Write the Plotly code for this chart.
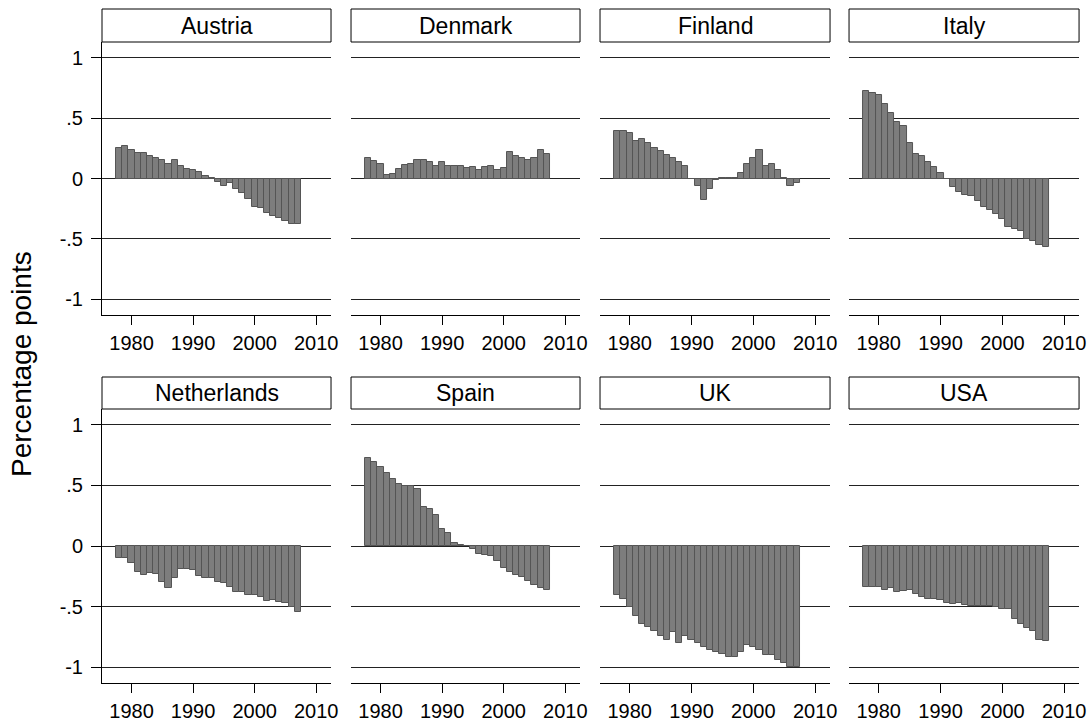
import plotly.graph_objects as go

years = list(range(1978, 2008))
countries = ["Austria", "Denmark", "Finland", "Italy",
             "Netherlands", "Spain", "UK", "USA"]

austria = [0.25, 0.27, 0.236, 0.21, 0.21, 0.19, 0.17, 0.15, 0.12, 0.15,
           0.10, 0.08, 0.07, 0.055, 0.02, 0.004, -0.03, -0.065, -0.04, -0.09,
           -0.12, -0.17, -0.235, -0.245, -0.285, -0.31, -0.33, -0.355, -0.375, -0.38]
denmark = [0.173, 0.143, 0.124, 0.025, 0.036, 0.077, 0.11, 0.124, 0.154, 0.154,
           0.135, 0.107, 0.135, 0.107, 0.107, 0.107, 0.088, 0.096, 0.074, 0.096,
           0.107, 0.074, 0.088, 0.217, 0.187, 0.173, 0.154, 0.173, 0.239, 0.206]
finland = [0.39, 0.39, 0.38, 0.313, 0.327, 0.294, 0.25, 0.228, 0.195, 0.173,
           0.14, 0.107, -0.004, -0.058, -0.176, -0.09, -0.014, 0.008, 0.008, 0.002,
           0.044, 0.12, 0.173, 0.239, 0.107, 0.12, 0.074, 0.002, -0.058, -0.04]
italy = [0.728, 0.709, 0.695, 0.618, 0.541, 0.467, 0.434, 0.294, 0.206, 0.184,
         0.14, 0.096, 0.044, -0.008, -0.069, -0.115, -0.135, -0.148, -0.184, -0.234,
         -0.264, -0.297, -0.332, -0.398, -0.418, -0.431, -0.5, -0.514, -0.547, -0.569]
netherlands = [-0.096, -0.102, -0.138, -0.212, -0.24, -0.226, -0.234, -0.295, -0.35, -0.267,
               -0.187, -0.187, -0.2, -0.245, -0.262, -0.267, -0.295, -0.306, -0.336, -0.383,
               -0.383, -0.405, -0.4, -0.421, -0.452, -0.446, -0.46, -0.474, -0.504, -0.548]
spain = [0.73, 0.689, 0.65, 0.6, 0.554, 0.512, 0.493, 0.493, 0.468, 0.325,
         0.303, 0.259, 0.143, 0.11, 0.022, 0.008, -0.002, -0.025, -0.069, -0.072,
         -0.083, -0.121, -0.185, -0.218, -0.242, -0.259, -0.287, -0.322, -0.35, -0.364]
uk = [-0.405, -0.44, -0.5, -0.576, -0.647, -0.669, -0.702, -0.744, -0.777, -0.708,
      -0.796, -0.744, -0.777, -0.804, -0.832, -0.854, -0.873, -0.887, -0.915, -0.915,
      -0.873, -0.818, -0.837, -0.86, -0.895, -0.895, -0.937, -0.961, -0.997, -1.0]
usa = [-0.339, -0.339, -0.339, -0.361, -0.35, -0.38, -0.372, -0.364, -0.394, -0.419,
       -0.435, -0.433, -0.446, -0.468, -0.479, -0.474, -0.487, -0.496, -0.496, -0.496,
       -0.496, -0.5, -0.523, -0.523, -0.603, -0.644, -0.678, -0.7, -0.777, -0.785]

series = [austria, denmark, finland, italy, netherlands, spain, uk, usa]

x_ticks = [1980, 1990, 2000, 2010]
y_ticks = [-1, -0.5, 0, 0.5, 1]
y_tick_labels = ["-1", "-.5", "0", ".5", "1"]

W, H = 1092, 722
XS = 1.0065  # small horizontal correction observed in rendering
FONT = "Liberation Sans, Arial, sans-serif"
col_px = [(102, 331), (351, 580), (600, 830), (849, 1079)]
row_px = [(42, 315), (409, 683)]
strip_px = [(9, 42), (377, 409)]

def px(x):
    return min(1.0, x * XS / W)

def py(y):
    return 1 - y / H

fig = go.Figure()
layout = dict(
    width=W, height=H,
    margin=dict(l=0, r=0, t=0, b=0),
    paper_bgcolor="white", plot_bgcolor="white",
    showlegend=False, bargap=0,
    font=dict(family=FONT, color="black"),
)
shapes = []
annotations = []

for i, (name, vals) in enumerate(zip(countries, series)):
    r, c = divmod(i, 4)
    k = i + 1
    xa = "xaxis" if k == 1 else f"xaxis{k}"
    ya = "yaxis" if k == 1 else f"yaxis{k}"
    xr = "x" if k == 1 else f"x{k}"
    yr = "y" if k == 1 else f"y{k}"
    fig.add_trace(go.Bar(
        x=years, y=vals, xaxis=xr, yaxis=yr, width=1.0,
        marker=dict(color="#7d7d7d", line=dict(color="#555555", width=1)),
    ))
    x0, x1 = col_px[c]
    y0, y1 = row_px[r]
    layout[xa] = dict(
        domain=[px(x0), px(x1)], anchor=yr, range=[1975.2, 2012.4],
        tickvals=x_ticks, ticks="outside", ticklen=9, tickcolor="black",
        showline=True, linecolor="black", linewidth=1, showgrid=False,
        zeroline=False, tickfont=dict(size=20, family=FONT, color="black"),
        ticklabelstandoff=1,
    )
    layout[ya] = dict(
        domain=[py(y1), py(y0)], anchor=xr, range=[-1.13, 1.13],
        tickvals=y_ticks, ticktext=y_tick_labels,
        showgrid=True, gridcolor="#222222", gridwidth=1, zeroline=False,
        showline=(c == 0), linecolor="black", linewidth=1,
        ticks="outside" if c == 0 else "", ticklen=10, tickcolor="black",
        showticklabels=(c == 0), ticklabelstandoff=4,
        tickfont=dict(size=20, family=FONT, color="black"),
    )
    s0, s1 = strip_px[r]
    shapes.append(dict(type="rect", xref="paper", yref="paper",
                       x0=px(x0), x1=px(x1), y0=py(s1), y1=py(s0),
                       line=dict(color="black", width=1), fillcolor="white"))
    annotations.append(dict(text=name, xref="paper", yref="paper",
                            x=px((x0 + x1) / 2), y=py((s0 + s1) / 2),
                            xanchor="center", yanchor="middle", showarrow=False,
                            font=dict(size=23, family=FONT, color="black")))

annotations.append(dict(text="Percentage points", xref="paper", yref="paper",
                        x=px(22), y=py(364), textangle=-90,
                        xanchor="center", yanchor="middle", showarrow=False,
                        font=dict(size=28, family=FONT, color="black")))

layout["shapes"] = shapes
layout["annotations"] = annotations
fig.update_layout(**layout)
# remove the default 8px page margin so the figure fills the window exactly
fig.write_html(
    "out.html",
    config={"displayModeBar": False},
    post_script="document.body.style.margin='0';"
                "document.documentElement.style.overflow='hidden';",
)
